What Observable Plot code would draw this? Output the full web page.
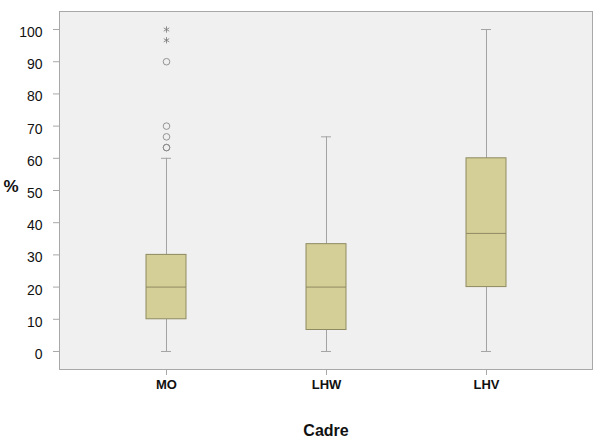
<!DOCTYPE html>
<html>
<head>
<meta charset="utf-8">
<script src="https://cdn.jsdelivr.net/npm/d3@7"></script>
<script src="https://cdn.jsdelivr.net/npm/@observablehq/plot@0.6"></script>
<style>
  html, body { margin: 0; padding: 0; background: #ffffff; }
  svg { font-family: "Liberation Sans", Arial, sans-serif; }
</style>
</head>
<body>
<div id="chart"></div>
<script>
const categories = ["MO", "LHW", "LHV"];
const whiskerLow = [0, 0, 0];
const q1 = [10, 6.67, 20];
const median = [20, 20, 36.67];
const q3 = [30, 33.33, 60];
const whiskerHigh = [60, 66.67, 100];
const outlierCategory = ["MO", "MO", "MO", "MO", "MO"];
const outlierValue = [63.33, 63.33, 66.67, 70, 90];
const extremeCategory = ["MO", "MO"];
const extremeValue = [96.67, 100];
const yTicks = [0, 10, 20, 30, 40, 50, 60, 70, 80, 90, 100];

const boxes = categories.map((c, i) => ({
  cat: c, lo: whiskerLow[i], q1: q1[i], med: median[i], q3: q3[i], hi: whiskerHigh[i]
}));
const outliers = outlierCategory.map((c, i) => ({cat: c, v: outlierValue[i]}));
const extremes = extremeCategory.map((c, i) => ({cat: c, v: extremeValue[i]}));

const whiskerColor = "#a3a3a3";

const chart = Plot.plot({
  width: 600,
  height: 448,
  marginLeft: 59,
  marginRight: 8,
  marginTop: 11,
  marginBottom: 79,
  style: {fontFamily: "'Liberation Sans', Arial, sans-serif", background: "#ffffff"},
  x: {type: "band", domain: categories, paddingInner: 0.75, paddingOuter: 0.54},
  y: {domain: [-5.6, 105.6]},
  marks: [
    Plot.frame({fill: "#f0f0f0", stroke: "#a8a8a8"}),
    // whiskers
    Plot.ruleX(boxes, {x: "cat", y1: "lo", y2: "q1", stroke: whiskerColor}),
    Plot.ruleX(boxes, {x: "cat", y1: "q3", y2: "hi", stroke: whiskerColor}),
    Plot.tickY(boxes, {x: "cat", y: "lo", stroke: whiskerColor, insetLeft: 15, insetRight: 15}),
    Plot.tickY(boxes, {x: "cat", y: "hi", stroke: whiskerColor, insetLeft: 15, insetRight: 15}),
    // boxes
    Plot.barY(boxes, {x: "cat", y1: "q1", y2: "q3", fill: "#d4cf97", stroke: "#8f8a62", strokeWidth: 1}),
    Plot.tickY(boxes, {x: "cat", y: "med", stroke: "#8f8a62", strokeWidth: 1}),
    // outliers
    Plot.dot(outliers, {x: "cat", y: "v", r: 3.3, stroke: "#8a8a8a", strokeWidth: 0.9, fill: "none"}),
    Plot.dot(extremes, {x: "cat", y: "v", r: 3, symbol: "asterisk", stroke: "#777777", strokeWidth: 0.8}),
    // axes
    Plot.axisY({ticks: yTicks, tickSize: 6, tickFormat: () => "", stroke: "#a8a8a8", label: null}),
    Plot.axisY({ticks: yTicks, tickSize: 0, tickPadding: 17, dy: 3, fill: "#111111", fontSize: 14, label: null}),
    Plot.axisX({tickSize: 6, tickPadding: 4, stroke: "#a8a8a8", fill: "#111111", fontSize: 13, fontWeight: "bold", label: null}),
    Plot.text(["%"], {frameAnchor: "left", dx: -56, dy: -4, textAnchor: "start", fontSize: 17, fontWeight: "bold", fill: "#111111"}),
    Plot.text(["Cadre"], {frameAnchor: "bottom", dy: 66, fontSize: 16, fontWeight: "bold", fill: "#111111"})
  ]
});
document.getElementById("chart").appendChild(chart);
</script>
</body>
</html>
